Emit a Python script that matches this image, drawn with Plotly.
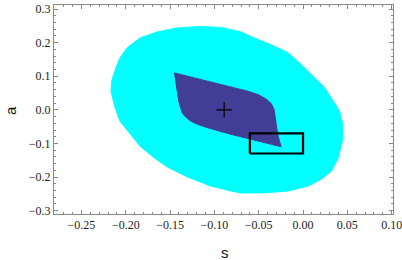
import plotly.graph_objects as go

# Outer (cyan) region boundary
region_s = [-0.2167, -0.2156, -0.2110, -0.2065, -0.1985, -0.1838, -0.1644, -0.1417, -0.1156,
            -0.0928, -0.0701, -0.0553, -0.0360, -0.0167, -0.0019, 0.0128, 0.0242, 0.0344,
            0.0413, 0.0447, 0.0447, 0.0401, 0.0322, 0.0208, 0.0060, -0.0167, -0.0440,
            -0.0701, -0.0815, -0.1042, -0.1303, -0.1531, -0.1690, -0.1838, -0.1951,
            -0.2065, -0.2122, -0.2167]
region_a = [0.0544, 0.0899, 0.1254, 0.1550, 0.1846, 0.2142, 0.2320, 0.2438, 0.2482,
            0.2453, 0.2320, 0.2142, 0.1935, 0.1698, 0.1343, 0.0959, 0.0663, 0.0249,
            -0.0047, -0.0432, -0.0876, -0.1408, -0.1822, -0.2059, -0.2266, -0.2414, -0.2473,
            -0.2473, -0.2414, -0.2266, -0.2000, -0.1704, -0.1408, -0.1083, -0.0728,
            -0.0343, 0.0071, 0.0544]

# Inner (dark blue) region boundary
inner_s = [-0.1451, -0.0928, -0.0622, -0.0497, -0.0417, -0.0360, -0.0326, -0.0303, -0.0281,
           -0.0247, -0.0815, -0.1080, -0.1190, -0.1269, -0.1326, -0.1364, -0.1383, -0.1402,
           -0.1451]
inner_a = [0.1098, 0.0751, 0.0553, 0.0441, 0.0322, 0.0189, 0.0012, -0.0432, -0.0787,
           -0.1098, -0.0728, -0.0530, -0.0432, -0.0334, -0.0210, -0.0086, 0.0071, 0.0257,
           0.1098]

# Best-fit point
best_s = [-0.089]
best_a = [0.0]

# Box
box_s = [-0.06, 0.0]
box_a = [-0.13, -0.07]

x_ticks = [-0.25, -0.20, -0.15, -0.10, -0.05, 0.00, 0.05, 0.10]
y_ticks = [-0.3, -0.2, -0.1, 0.0, 0.1, 0.2, 0.3]

fig = go.Figure()
fig.add_trace(go.Scatter(x=region_s, y=region_a, mode="lines", fill="toself",
                         fillcolor="#00FFFF", line=dict(color="#00FFFF", width=1),
                         hoverinfo="skip", showlegend=False))
fig.add_trace(go.Scatter(x=inner_s, y=inner_a, mode="lines", fill="toself",
                         fillcolor="#423D97", line=dict(color="#423D97", width=1),
                         hoverinfo="skip", showlegend=False))
fig.add_trace(go.Scatter(x=[box_s[0], box_s[1], box_s[1], box_s[0], box_s[0]],
                         y=[box_a[0], box_a[0], box_a[1], box_a[1], box_a[0]],
                         mode="lines", line=dict(color="black", width=2.2),
                         showlegend=False))
fig.add_trace(go.Scatter(x=best_s, y=best_a, mode="markers",
                         marker=dict(symbol="cross-thin", size=11,
                                     line=dict(color="black", width=1.2)),
                         showlegend=False))

tickfont = dict(family="Liberation Serif, Times New Roman, serif", size=12, color="#222")
common = dict(ticks="inside", ticklen=4, tickcolor="#888", showline=True,
              linecolor="#888", linewidth=1, mirror="allticks", showgrid=False,
              zeroline=False, tickfont=tickfont, automargin=False)
fig.update_xaxes(range=[-0.281, 0.1015], tickvals=x_ticks, tickformat=".2f",
                 ticklabeloverflow="allow",
                 minor=dict(dtick=0.01, tick0=0, ticks="inside", ticklen=2,
                            tickcolor="#888", showgrid=False), **common)
fig.update_yaxes(range=[-0.31, 0.312], tickvals=y_ticks, tickformat=".1f",
                 minor=dict(dtick=0.02, tick0=0, ticks="inside", ticklen=2,
                            tickcolor="#888", showgrid=False), **common)

titlefont = dict(family="Liberation Sans, Arial, sans-serif", size=15, color="#111")
fig.add_annotation(text="s", xref="paper", yref="paper", x=0.504, y=-0.182,
                   xanchor="center", yanchor="middle", showarrow=False, font=titlefont)
fig.add_annotation(text="a", xref="paper", yref="paper", x=-0.13, y=0.4976,
                   xanchor="center", yanchor="middle", showarrow=False, textangle=-90,
                   font=titlefont)

fig.update_layout(width=402, height=260, margin=dict(l=54, r=9, t=5, b=46),
                  plot_bgcolor="white", paper_bgcolor="white")
fig.write_html("out.html", config={"displayModeBar": False},
               post_script="document.body.style.margin='0';document.body.style.overflow='hidden';")
